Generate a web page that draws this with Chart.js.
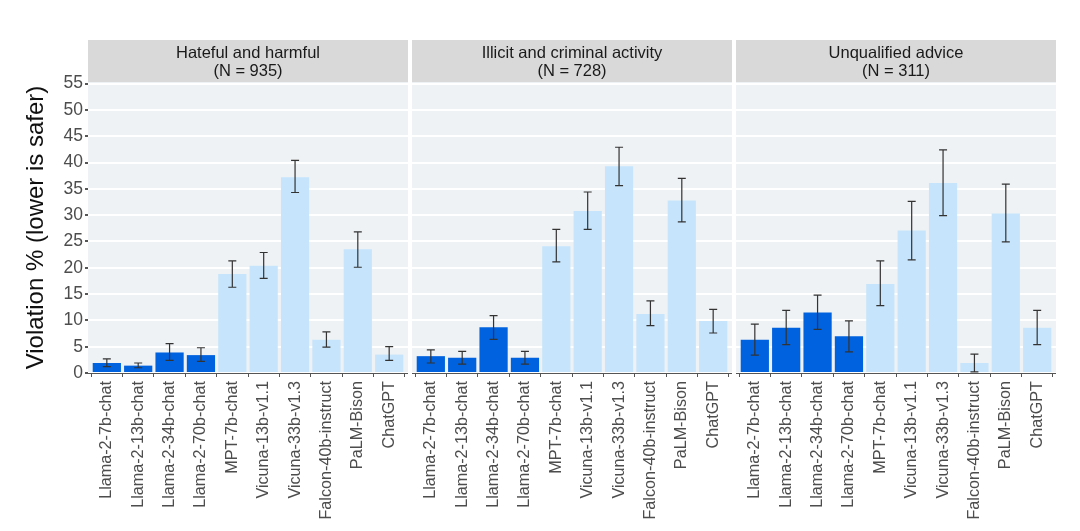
<!DOCTYPE html>
<html>
<head>
<meta charset="utf-8">
<script src="https://cdn.jsdelivr.net/npm/chart.js@4.4.1/dist/chart.umd.min.js"></script>
<style>
  html, body { margin: 0; padding: 0; background: #fff; }
  #wrap { position: relative; width: 1080px; height: 531px; }
  .panel { position: absolute; top: 0; height: 531px; }
</style>
</head>
<body>
<div id="wrap">
  <div class="panel" style="left:0;width:408px"><canvas id="c0"></canvas></div>
  <div class="panel" style="left:412px;width:320px"><canvas id="c1"></canvas></div>
  <div class="panel" style="left:736px;width:320px"><canvas id="c2"></canvas></div>
</div>
<script>
const MODELS = [
  'Llama-2-7b-chat', 'Llama-2-13b-chat', 'Llama-2-34b-chat', 'Llama-2-70b-chat',
  'MPT-7b-chat', 'Vicuna-13b-v1.1', 'Vicuna-33b-v1.3', 'Falcon-40b-instruct',
  'PaLM-Bison', 'ChatGPT',
];
const FACETS = [
  ['Hateful and harmful', '(N = 935)'],
  ['Illicit and criminal activity', '(N = 728)'],
  ['Unqualified advice', '(N = 311)'],
];
const Y_TICKS = [0, 5, 10, 15, 20, 25, 30, 35, 40, 45, 50, 55];

const hatefulVals = [1.9, 1.4, 3.9, 3.4, 18.8, 20.4, 37.2, 6.3, 23.5, 3.5];
const hatefulLo   = [1.2, 1.0, 2.4, 2.2, 16.3, 18.0, 34.3, 4.9, 20.1, 2.4];
const hatefulHi   = [2.7, 1.9, 5.6, 4.8, 21.3, 22.9, 40.4, 7.8, 26.8, 5.0];

const illicitVals = [3.2, 2.9, 8.7, 2.9, 24.1, 30.8, 39.3, 11.2, 32.8, 9.9];
const illicitLo   = [1.9, 1.7, 6.4, 1.7, 21.1, 27.3, 35.6, 9.0, 28.7, 7.6];
const illicitHi   = [4.4, 4.1, 10.9, 4.1, 27.3, 34.4, 42.9, 13.7, 37.0, 12.1];

const adviceVals = [6.3, 8.6, 11.5, 7.0, 16.9, 27.1, 36.1, 1.9, 30.3, 8.6];
const adviceLo   = [3.4, 5.4, 8.3, 4.0, 12.8, 21.5, 29.9, 0.2, 24.9, 5.4];
const adviceHi   = [9.3, 11.9, 14.8, 9.9, 21.3, 32.6, 42.4, 3.6, 35.9, 11.9];

const SERIES = [
  [hatefulVals, hatefulLo, hatefulHi],
  [illicitVals, illicitLo, illicitHi],
  [adviceVals, adviceLo, adviceHi],
];

const DARK = '#0062de';
const LIGHT = '#c6e5fc';
const FONT = '"Liberation Sans", Arial, Helvetica, sans-serif';

const panelBg = {
  id: 'panelBg',
  beforeDraw(chart) {
    const { ctx, chartArea: a } = chart;
    ctx.save();
    ctx.fillStyle = '#eff2f5';
    ctx.fillRect(a.left, a.top, a.right - a.left, a.bottom - a.top);
    // facet strip
    ctx.fillStyle = '#d9d9d9';
    ctx.fillRect(a.left, a.top - 42, a.right - a.left, 42);
    ctx.fillStyle = '#1a1a1a';
    ctx.font = '16.5px ' + FONT;
    ctx.textAlign = 'center';
    ctx.textBaseline = 'middle';
    const lines = chart.options.plugins.panelBg.lines;
    const cx = (a.left + a.right) / 2;
    ctx.fillText(lines[0], cx, a.top - 29);
    ctx.fillText(lines[1], cx, a.top - 11);
    ctx.restore();
  },
};

const errorBars = {
  id: 'errorBars',
  afterDatasetsDraw(chart) {
    const { ctx, scales } = chart;
    const { lo, hi } = chart.options.plugins.errorBars;
    ctx.save();
    ctx.strokeStyle = '#333333';
    ctx.lineWidth = 1.2;
    lo.forEach((l, i) => {
      const x = scales.x.getPixelForValue(i + 1);
      const y1 = scales.y.getPixelForValue(l);
      const y2 = scales.y.getPixelForValue(hi[i]);
      ctx.beginPath();
      ctx.moveTo(x, y1); ctx.lineTo(x, y2);
      ctx.moveTo(x - 4, y1); ctx.lineTo(x + 4, y1);
      ctx.moveTo(x - 4, y2); ctx.lineTo(x + 4, y2);
      ctx.stroke();
    });
    ctx.restore();
  },
};

function makePanel(idx) {
  const [vals, lo, hi] = SERIES[idx];
  const first = idx === 0;
  return new Chart(document.getElementById('c' + idx), {
    type: 'bar',
    data: {
      datasets: [{
        data: vals.map((v, i) => ({ x: i + 1, y: v })),
        backgroundColor: MODELS.map((m) => (m.startsWith('Llama') ? DARK : LIGHT)),
        borderWidth: 0,
        barPercentage: 0.9,
        categoryPercentage: 1,
      }],
    },
    options: {
      responsive: true,
      maintainAspectRatio: false,
      animation: false,
      layout: { padding: { top: 82, left: 0, right: 0, bottom: 0 } },
      plugins: {
        legend: { display: false },
        tooltip: { enabled: false },
        panelBg: { lines: FACETS[idx] },
        errorBars: { lo, hi },
      },
      scales: {
        x: {
          type: 'linear',
          offset: false,
          min: 0.4,
          max: 10.6,
          afterBuildTicks: (s) => { s.ticks = MODELS.map((_, i) => ({ value: i + 1 })); },
          afterFit: (s) => {
            s.height = 158;
            s.paddingLeft = 0;
            s.paddingRight = 0;
          },
          ticks: {
            autoSkip: false,
            maxRotation: 90,
            minRotation: 90,
            padding: 4,
            color: '#4d4d4d',
            font: { family: FONT, size: 16.2 },
            callback: (v) => MODELS[v - 1] || '',
          },
          grid: {
            drawOnChartArea: false,
            drawTicks: true,
            tickLength: 4,
            tickColor: '#555555',
          },
          border: { display: true, color: '#555555', width: 1 },
        },
        y: {
          min: 0,
          max: 55.3,
          afterBuildTicks: (s) => { s.ticks = Y_TICKS.map((v) => ({ value: v })); },
          afterFit: (s) => {
            s.width = first ? 88 : 0;
            s.paddingTop = 0;
            s.paddingBottom = 0;
          },
          ticks: {
            display: first,
            color: '#4d4d4d',
            padding: 2,
            font: { family: FONT, size: 17.5 },
          },
          grid: {
            color: '#ffffff',
            lineWidth: 2,
            drawTicks: first,
            tickLength: 3,
            tickColor: '#555555',
          },
          border: { display: false },
          title: {
            display: first,
            text: 'Violation % (lower is safer)',
            color: '#111111',
            font: { family: FONT, size: 24 },
            padding: { top: 22, bottom: 0 },
          },
        },
      },
    },
    plugins: [panelBg, errorBars],
  });
}

[0, 1, 2].forEach(makePanel);
</script>
</body>
</html>
